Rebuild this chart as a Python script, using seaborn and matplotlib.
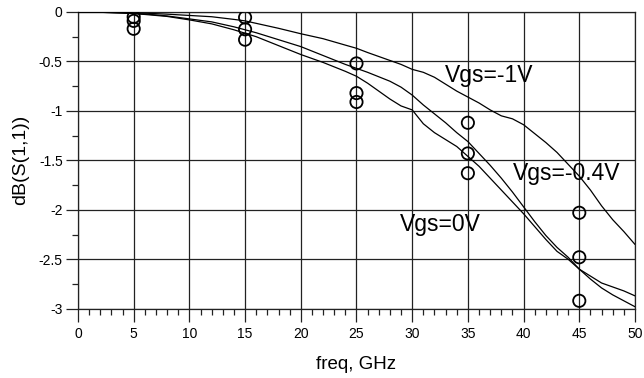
import numpy as np
import pandas as pd
import matplotlib
matplotlib.use("Agg")
import matplotlib.pyplot as plt
from matplotlib.ticker import MultipleLocator
import seaborn as sns

# Simulated S11 return loss (dB) versus frequency for three gate biases
freq = [0, 2, 4, 6, 8, 10, 12, 14, 15, 16, 18, 20, 22, 24, 25, 26, 28, 29, 30,
        31, 32, 33, 34, 35, 36, 37, 38, 39, 40, 41, 42, 43, 44, 45, 46, 47,
        48, 49, 50]
s11_vgs_m1 = [0, -0.002, -0.006, -0.012, -0.022, -0.035, -0.048, -0.075, -0.09,
              -0.115, -0.165, -0.22, -0.27, -0.335, -0.367, -0.41, -0.49, -0.53,
              -0.58, -0.61, -0.66, -0.73, -0.80, -0.86, -0.92, -0.99, -1.05,
              -1.08, -1.14, -1.23, -1.32, -1.42, -1.54, -1.66, -1.80, -1.96,
              -2.10, -2.22, -2.35]
s11_vgs_m04 = [0, -0.003, -0.01, -0.02, -0.04, -0.07, -0.10, -0.15, -0.18,
               -0.21, -0.28, -0.35, -0.44, -0.53, -0.57, -0.61, -0.70, -0.76,
               -0.84, -0.94, -1.03, -1.12, -1.22, -1.31, -1.43, -1.55, -1.68,
               -1.82, -1.97, -2.12, -2.26, -2.38, -2.48, -2.60, -2.70, -2.79,
               -2.86, -2.92, -2.98]
s11_vgs_0 = [0, -0.003, -0.01, -0.025, -0.045, -0.08, -0.12, -0.18, -0.215,
             -0.25, -0.34, -0.43, -0.51, -0.60, -0.65, -0.72, -0.88, -0.95,
             -0.99, -1.13, -1.22, -1.29, -1.36, -1.46, -1.56, -1.68, -1.80,
             -1.92, -2.04, -2.17, -2.30, -2.42, -2.50, -2.60, -2.67, -2.74,
             -2.78, -2.82, -2.87]

# Measured points
meas_freq = [5, 15, 25, 35, 45]
meas_vgs_m1 = [-0.05, -0.055, -0.52, -1.12, -2.03]
meas_vgs_m04 = [-0.09, -0.175, -0.82, -1.43, -2.48]
meas_vgs_0 = [-0.17, -0.28, -0.91, -1.63, -2.92]

bias_labels = ["Vgs=-1V", "Vgs=-0.4V", "Vgs=0V"]

curves = pd.concat([
    pd.DataFrame({"freq": freq, "dB": s11_vgs_m1, "bias": bias_labels[0]}),
    pd.DataFrame({"freq": freq, "dB": s11_vgs_m04, "bias": bias_labels[1]}),
    pd.DataFrame({"freq": freq, "dB": s11_vgs_0, "bias": bias_labels[2]}),
])
points = pd.concat([
    pd.DataFrame({"freq": meas_freq, "dB": meas_vgs_m1, "bias": bias_labels[0]}),
    pd.DataFrame({"freq": meas_freq, "dB": meas_vgs_m04, "bias": bias_labels[1]}),
    pd.DataFrame({"freq": meas_freq, "dB": meas_vgs_0, "bias": bias_labels[2]}),
])

sns.set_theme(style="white")
plt.rcParams["font.family"] = ["Liberation Sans", "DejaVu Sans"]
plt.rcParams["text.color"] = "black"
plt.rcParams["axes.labelcolor"] = "black"
plt.rcParams["xtick.color"] = "black"
plt.rcParams["ytick.color"] = "black"

fig = plt.figure(figsize=(6.44, 3.78), dpi=100)
ax = fig.add_axes([0.1211, 0.1833, 0.8649, 0.785])

sns.lineplot(data=curves, x="freq", y="dB", units="bias", estimator=None,
             color="black", linewidth=0.9, ax=ax, sort=False, zorder=3)
sns.scatterplot(data=points, x="freq", y="dB", marker="o", s=78,
                facecolors="none", edgecolors="black", linewidths=1.3,
                ax=ax, zorder=4, legend=False)

ax.set_xlim(0, 50)
ax.set_ylim(-3, 0)
ax.xaxis.set_major_locator(MultipleLocator(5))
ax.xaxis.set_minor_locator(MultipleLocator(1))
ax.yaxis.set_major_locator(MultipleLocator(0.5))
ax.yaxis.set_minor_locator(MultipleLocator(0.25))
ax.set_yticks([0, -0.5, -1, -1.5, -2, -2.5, -3])
ax.set_yticklabels(["0", "-0.5", "-1", "-1.5", "-2", "-2.5", "-3"])

ax.grid(True, which="major", color="#222222", linewidth=0.9)
for side in ["left", "right", "top", "bottom"]:
    ax.spines[side].set_color("#222222")
    ax.spines[side].set_linewidth(0.9)

ax.tick_params(axis="both", which="major", direction="out", length=9,
               width=0.9, color="#222222", labelsize=10, bottom=True,
               left=True, labelcolor="black")
ax.tick_params(axis="both", which="minor", direction="out", length=4.5,
               width=0.9, color="#222222", bottom=True, left=True)
ax.tick_params(axis="x", which="major", pad=4)
ax.tick_params(axis="y", which="major", pad=2)

ax.set_xlabel("freq, GHz", fontsize=13.5, labelpad=11, color="black")
ax.set_ylabel("dB(S(1,1))", fontsize=14, labelpad=7, color="black")

ax.text(32.9, -0.64, bias_labels[0], fontsize=16.5, va="center", ha="left")
ax.text(39.0, -1.63, bias_labels[1], fontsize=16.5, va="center", ha="left")
ax.text(28.9, -2.15, bias_labels[2], fontsize=16.5, va="center", ha="left")

fig.savefig("out.png", dpi=100)
